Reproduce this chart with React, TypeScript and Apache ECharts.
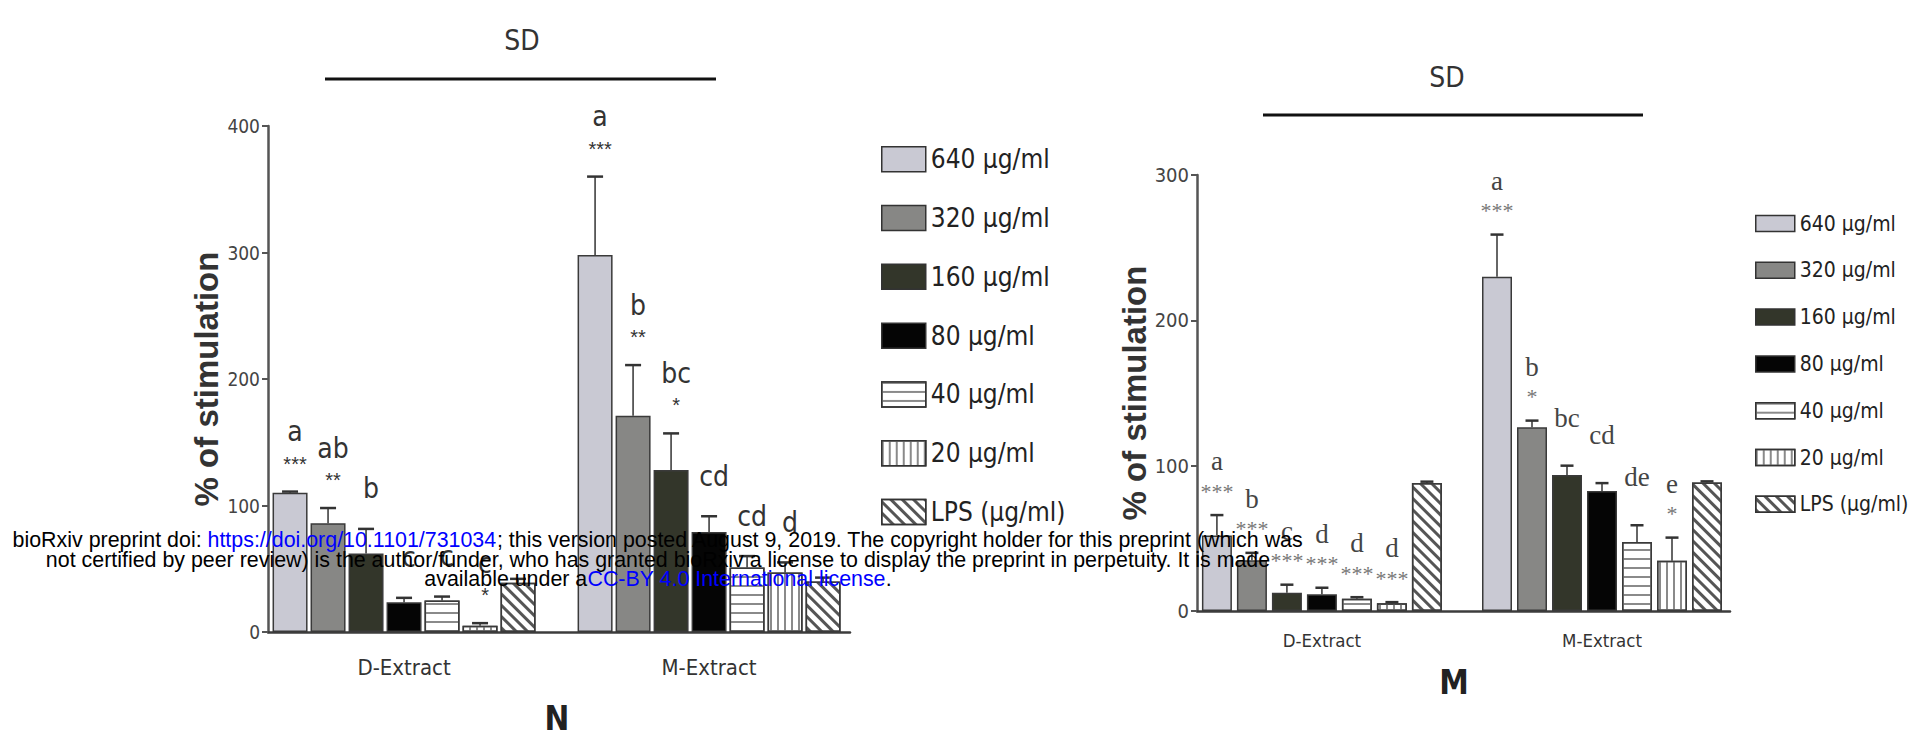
import React, { useEffect, useRef } from 'react';
import * as echarts from 'echarts';

// ---------- data ----------
const groups = ['D-Extract', 'M-Extract'];
const groupPos = [1, 2];
const doses = ['640 µg/ml', '320 µg/ml', '160 µg/ml', '80 µg/ml', '40 µg/ml', '20 µg/ml', 'LPS (µg/ml)'];

// Panel N : per dose, [D-Extract, M-Extract]
const nMeans = [[110, 298], [86, 171], [62, 128], [23.5, 79], [25, 51], [5, 47], [39, 40]];
const nErrors = [[1, 62], [12, 40], [19.5, 29], [3.5, 12.5], [3, 9], [2, 8], [3, 3]];
const nLetters = [['a', 'a'], ['ab', 'b'], ['b', 'bc'], ['c', 'cd'], ['c', 'cd'], ['c', 'd'], ['', '']];
const nStars = [['***', '***'], ['**', '**'], ['', '*'], ['', ''], ['', ''], ['*', ''], ['', '']];
const nAxisMax = 400;

// Panel M : per dose, [D-Extract, M-Extract]
const mMeans = [[52, 230], [35, 126.5], [12.6, 93.5], [11.5, 82.5], [8.5, 47.5], [5.3, 34.5], [88, 88.5]];
const mErrors = [[14, 29], [5, 4.5], [5.5, 6.5], [4.5, 5.5], [1, 11.5], [0.8, 16], [1, 0.7]];
const mLetters = [['a', 'a'], ['b', 'b'], ['c', 'bc'], ['d', 'cd'], ['d', 'de'], ['d', 'e'], ['', '']];
const mStars = [['***', '***'], ['***', '*'], ['***', ''], ['***', ''], ['***', ''], ['***', '*'], ['', '']];
const mAxisMax = 300;
const axisInterval = 100;

// ---------- styles ----------
const NARROW = "'DejaVu Sans Condensed', 'Liberation Sans Narrow', sans-serif";
const SANS = "'Liberation Sans', Arial, sans-serif";
const SERIF = "'Liberation Serif', 'Times New Roman', serif";

const fills = ['#c9c9d3', '#878785', '#33362a', '#050505', '#ffffff', '#ffffff', '#ffffff'];
const decals: any[] = [
  undefined, undefined, undefined, undefined,
  { symbol: 'rect', symbolSize: 1, dashArrayX: [1, 0], dashArrayY: [2, 7], color: '#8a8a8a', backgroundColor: '#ffffff', rotation: 0 },
  { symbol: 'rect', symbolSize: 1, dashArrayX: [1.5, 4.5], dashArrayY: [1, 0], color: '#8a8a8a', backgroundColor: '#ffffff', rotation: 0 },
  { symbol: 'rect', symbolSize: 1, dashArrayX: [1, 0], dashArrayY: [2.5, 4.5], color: '#555555', backgroundColor: '#ffffff', rotation: Math.PI / 4 },
];

function barSeries(means: number[][], axisIdx: number, barWidth: number, gapPx: number) {
  return doses.map((name, k) => ({
    type: 'bar',
    name,
    xAxisIndex: axisIdx,
    yAxisIndex: axisIdx,
    barWidth,
    barGap: (gapPx / barWidth * 100).toFixed(3) + '%',
    data: groupPos.map((p, g) => [p, means[k][g]]),
    itemStyle: {
      color: fills[k],
      borderColor: '#3a3a3a',
      borderWidth: 1.5,
      decal: decals[k],
    },
    z: 2,
  }));
}

function annoSeries(
  means: number[][], errors: number[][], letters: string[][], stars: string[][],
  axisIdx: number, step: number, capW: number, cfg: any
) {
  const data: number[][] = [];
  const lab: string[][] = [];
  for (let k = 0; k < doses.length; k++) {
    for (let g = 0; g < groups.length; g++) {
      data.push([groupPos[g], k, means[k][g], errors[k][g]]);
      lab.push([letters[k][g], stars[k][g]]);
    }
  }
  return {
    type: 'custom',
    xAxisIndex: axisIdx,
    yAxisIndex: axisIdx,
    encode: { x: 0, y: 2 },
    data,
    z: 5,
    silent: true,
    renderItem: (params: any, api: any) => {
      const [p, k, v, e] = data[params.dataIndex];
      const [letter, star] = lab[params.dataIndex];
      const top = api.coord([p, v]);
      const cap = api.coord([p, v + e]);
      const x = top[0] + (k - (doses.length - 1) / 2) * step;
      const children: any[] = [
        { type: 'line', shape: { x1: x, y1: top[1], x2: x, y2: cap[1] }, style: { stroke: '#333', lineWidth: 1.5 } },
        { type: 'line', shape: { x1: x - capW / 2, y1: cap[1], x2: x + capW / 2, y2: cap[1] }, style: { stroke: '#333', lineWidth: 2.5 } },
      ];
      const tx = x + cfg.dx;
      if (star) {
        children.push({
          type: 'text', x: tx, y: cap[1] - cfg.starOff,
          style: { text: star, fill: cfg.starColor, font: cfg.starFont, align: 'center', verticalAlign: 'middle' },
        });
      }
      if (letter) {
        children.push({
          type: 'text', x: tx, y: cap[1] - (star ? cfg.letterOffStar : cfg.letterOff),
          style: { text: letter, fill: cfg.letterColor, font: cfg.letterFont, align: 'center', verticalAlign: 'middle' },
        });
      }
      return { type: 'group', children };
    },
  };
}

function makeOption() {
  const gridN = { left: 268, top: 126, width: 582, height: 506 };
  const gridM = { left: 1197, top: 175, width: 533, height: 436 };

  const xAxisBase = (idx: number, max: number, fontSize: number, margin: number) => ({
    type: 'value',
    gridIndex: idx,
    min: 0.554,
    max,
    splitLine: { show: false },
    axisTick: { show: false },
    axisLine: { show: true, onZero: false, lineStyle: { color: '#3c3c3c', width: 2.5 } },
    axisLabel: {
      customValues: groupPos,
      formatter: (v: number) => groups[groupPos.indexOf(Math.round(v))] || '',
      fontFamily: NARROW, fontSize, color: '#333', margin,
    },
  });
  const yAxisBase = (idx: number, max: number, fontSize: number, nameGap: number) => ({
    type: 'value',
    gridIndex: idx,
    min: 0,
    max,
    interval: axisInterval,
    splitLine: { show: false },
    axisLine: { show: true, lineStyle: { color: '#555', width: 2.5 } },
    axisTick: { show: true, length: 6, lineStyle: { color: '#555', width: 2 } },
    axisLabel: { fontFamily: NARROW, fontSize, color: '#444', margin: 8 },
    name: '% of stimulation',
    nameLocation: 'middle',
    nameRotate: 90,
    nameGap,
    nameTextStyle: { fontFamily: SANS, fontWeight: 'bold', fontSize: 33, color: '#333' },
  });

  const legendBase = (left: number, top: number, iw: number, ih: number, gap: number, fs: number) => ({
    data: doses,
    orient: 'vertical',
    left,
    top,
    icon: 'rect',
    itemWidth: iw,
    itemHeight: ih,
    itemGap: gap,
    selectedMode: false,
    itemStyle: { borderColor: '#333', borderWidth: 1.5 },
    textStyle: { fontFamily: NARROW, fontSize: fs, lineHeight: fs, color: '#222' },
  });

  const nCfg = {
    dx: 5, starOff: 28, letterOffStar: 60, letterOff: 40,
    starFont: `20px ${SANS}`, letterFont: `28px ${NARROW}`,
    starColor: '#333', letterColor: '#333',
  };
  const mCfg = {
    dx: 0, starOff: 24, letterOffStar: 54, letterOff: 48,
    starFont: `22px ${SERIF}`, letterFont: `27px ${SERIF}`,
    starColor: '#777', letterColor: '#444',
  };

  const wm1a = 'bioRxiv preprint doi: ';
  const wm1b = 'https://doi.org/10.1101/731034';
  const wm1c = '; this version posted August 9, 2019. The copyright holder for this preprint (which was';
  const wm2 = 'not certified by peer review) is the author/funder, who has granted bioRxiv a license to display the preprint in perpetuity. It is made';
  const wm3a = 'available under a';
  const wm3b = 'CC-BY 4.0 International license';
  const wm3c = '.';
  const wmRich = {
    k: { fontFamily: SANS, fontSize: 21.4, fill: '#000000' },
    b: { fontFamily: SANS, fontSize: 21.4, fill: '#0000ff' },
  };

  return {
    animation: false,
    backgroundColor: '#ffffff',
    grid: [gridN, gridM],
    xAxis: [xAxisBase(0, 2.462, 22, 24), xAxisBase(1, 2.457, 18.5, 20)],
    yAxis: [yAxisBase(0, nAxisMax, 19, 16), yAxisBase(1, mAxisMax, 20, 44)],
    legend: [
      legendBase(876, 141, 44, 25, 32.3, 26),
      legendBase(1750, 208, 39, 16, 25.8, 21),
    ],
    series: [
      ...barSeries(nMeans, 0, 35, 3),
      ...barSeries(mMeans, 1, 30, 5),
      annoSeries(nMeans, nErrors, nLetters, nStars, 0, 38, 16, nCfg),
      annoSeries(mMeans, mErrors, mLetters, mStars, 1, 35, 13, mCfg),
    ],
    graphic: [
      { type: 'text', x: 522, y: 40, style: { text: 'SD', font: `28px ${NARROW}`, fill: '#333', align: 'center', verticalAlign: 'middle' } },
      { type: 'line', shape: { x1: 325, y1: 79, x2: 716, y2: 79 }, style: { stroke: '#111', lineWidth: 3 } },
      { type: 'text', x: 1447, y: 77, style: { text: 'SD', font: `28px ${NARROW}`, fill: '#333', align: 'center', verticalAlign: 'middle' } },
      { type: 'line', shape: { x1: 1263, y1: 115, x2: 1643, y2: 115 }, style: { stroke: '#111', lineWidth: 3 } },
      { type: 'text', x: 557, y: 718, style: { text: 'N', font: `bold 33px ${NARROW}`, fill: '#222', align: 'center', verticalAlign: 'middle' } },
      { type: 'text', x: 1454, y: 682, style: { text: 'M', font: `bold 33px ${NARROW}`, fill: '#222', align: 'center', verticalAlign: 'middle' } },
      {
        type: 'text', x: 658, y: 540, z: 100,
        style: { text: `{k|${wm1a}}{b|${wm1b}}{k|${wm1c}}`, rich: wmRich, align: 'center', verticalAlign: 'middle' },
      },
      {
        type: 'text', x: 658, y: 559.5, z: 100,
        style: { text: `{k|${wm2}}`, rich: wmRich, align: 'center', verticalAlign: 'middle' },
      },
      {
        type: 'text', x: 658, y: 579, z: 100,
        style: { text: `{k|${wm3a}}{b|${wm3b}}{k|${wm3c}}`, rich: wmRich, align: 'center', verticalAlign: 'middle' },
      },
    ],
  };
}

export default function App() {
  const ref = useRef<HTMLDivElement>(null);
  useEffect(() => {
    if (!ref.current) return;
    const chart = echarts.init(ref.current, undefined, { renderer: 'svg' });
    chart.setOption(makeOption() as any);
    return () => chart.dispose();
  }, []);
  return (
    <div
      ref={ref}
      style={{ position: 'fixed', left: 0, top: 0, width: 1917, height: 738, background: '#fff' }}
    />
  );
}
